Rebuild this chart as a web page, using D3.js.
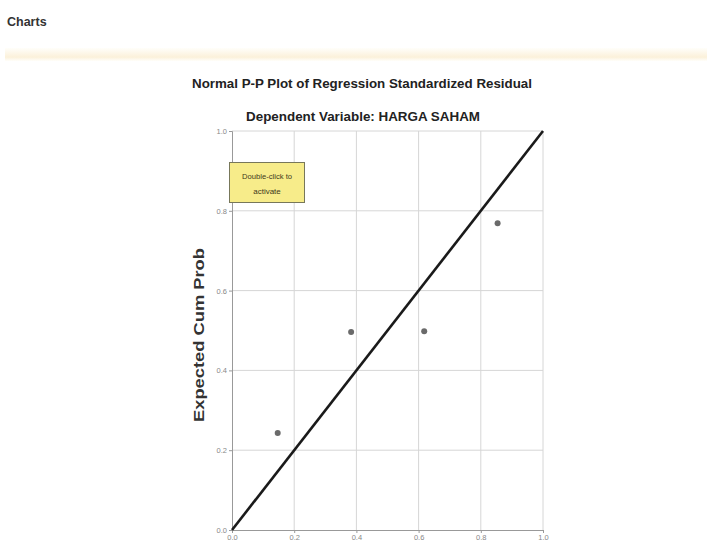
<!DOCTYPE html>
<html>
<head>
<meta charset="utf-8">
<script src="https://cdn.jsdelivr.net/npm/d3@7"></script>
<style>
  body { margin: 0; background: #fff; }
  svg { display: block; font-family: "Liberation Sans", Arial, sans-serif; }
</style>
</head>
<body>
<div id="chart"></div>
<script>
const observedCum = [0.147, 0.383, 0.618, 0.854];
const expectedCum = [0.243, 0.496, 0.498, 0.769];
const tickValues = [0.0, 0.2, 0.4, 0.6, 0.8, 1.0];
const refLine = [[0, 0], [1, 1]];

const W = 707, H = 543;
const svg = d3.select("#chart").append("svg")
    .attr("width", W)
    .attr("height", H);

// header
svg.append("text")
    .attr("x", 7).attr("y", 26)
    .attr("font-size", 12.5).attr("font-weight", "bold")
    .attr("fill", "#333")
    .text("Charts");

const band = svg.append("defs").append("linearGradient")
    .attr("id", "band").attr("x1", 0).attr("x2", 0).attr("y1", 0).attr("y2", 1);
band.append("stop").attr("offset", "0%").attr("stop-color", "#fffefa");
band.append("stop").attr("offset", "70%").attr("stop-color", "#fbf1da");
band.append("stop").attr("offset", "100%").attr("stop-color", "#fffefa");
svg.append("rect")
    .attr("x", 5).attr("y", 48).attr("width", W - 5).attr("height", 13)
    .attr("fill", "url(#band)");

// titles
svg.append("text")
    .attr("x", 362).attr("y", 88)
    .attr("text-anchor", "middle")
    .attr("font-size", 12).attr("font-weight", "bold")
    .attr("fill", "#222")
    .attr("textLength", 340).attr("lengthAdjust", "spacingAndGlyphs")
    .text("Normal P-P Plot of Regression Standardized Residual");
svg.append("text")
    .attr("x", 363).attr("y", 121)
    .attr("text-anchor", "middle")
    .attr("font-size", 12).attr("font-weight", "bold")
    .attr("fill", "#222")
    .attr("textLength", 234).attr("lengthAdjust", "spacingAndGlyphs")
    .text("Dependent Variable: HARGA SAHAM");

const x = d3.scaleLinear().domain([0, 1]).range([232, 543]);
const y = d3.scaleLinear().domain([0, 1]).range([530, 131]);

// grid
const grid = svg.append("g").attr("stroke", "#d6d6d6").attr("stroke-width", 1);
grid.selectAll(".gx").data(tickValues.slice(1))
    .join("line")
    .attr("x1", d => x(d)).attr("x2", d => x(d))
    .attr("y1", y(0)).attr("y2", y(1));
grid.selectAll(".gy").data(tickValues.slice(1))
    .join("line")
    .attr("x1", x(0)).attr("x2", x(1))
    .attr("y1", d => y(d)).attr("y2", d => y(d));

// axes
const yAxis = svg.append("g")
    .attr("transform", `translate(${x(0)},0)`)
    .call(d3.axisLeft(y).tickValues(tickValues).tickFormat(d3.format(".1f")).tickSize(3).tickPadding(2));
const xAxis = svg.append("g")
    .attr("transform", `translate(0,${y(0)})`)
    .call(d3.axisBottom(x).tickValues(tickValues).tickFormat(d3.format(".1f")).tickSize(3).tickPadding(2));
[xAxis, yAxis].forEach(a => {
    a.select(".domain").attr("stroke", "#999");
    a.selectAll(".tick line").attr("stroke", "#999");
    a.selectAll(".tick text").attr("fill", "#888").attr("font-size", 7.5);
});

svg.append("text")
    .attr("transform", "translate(204,335) rotate(-90)")
    .attr("text-anchor", "middle")
    .attr("font-size", 14).attr("font-weight", "bold")
    .attr("fill", "#333")
    .attr("textLength", 174).attr("lengthAdjust", "spacingAndGlyphs")
    .text("Expected Cum Prob");

// reference line
svg.append("path")
    .datum(refLine)
    .attr("fill", "none")
    .attr("stroke", "#1a1a1a")
    .attr("stroke-width", 2.6)
    .attr("d", d3.line().x(d => x(d[0])).y(d => y(d[1])));

// points
svg.selectAll(".pt")
    .data(observedCum.map((v, i) => [v, expectedCum[i]]))
    .join("circle")
    .attr("cx", d => x(d[0]))
    .attr("cy", d => y(d[1]))
    .attr("r", 3)
    .attr("fill", "#6a6a6a");

// activation hint box
const hint = svg.append("g");
hint.append("rect")
    .attr("x", 229.5).attr("y", 162.5).attr("width", 75).attr("height", 40)
    .attr("fill", "#f7ec8a").attr("stroke", "#77775a").attr("stroke-width", 1);
hint.append("text")
    .attr("x", 267).attr("y", 179)
    .attr("text-anchor", "middle").attr("font-size", 8)
    .attr("fill", "#3e3a1c")
    .attr("textLength", 50).attr("lengthAdjust", "spacingAndGlyphs")
    .text("Double-click to");
hint.append("text")
    .attr("x", 267).attr("y", 194)
    .attr("text-anchor", "middle").attr("font-size", 8)
    .attr("fill", "#3e3a1c")
    .text("activate");
</script>
</body>
</html>
